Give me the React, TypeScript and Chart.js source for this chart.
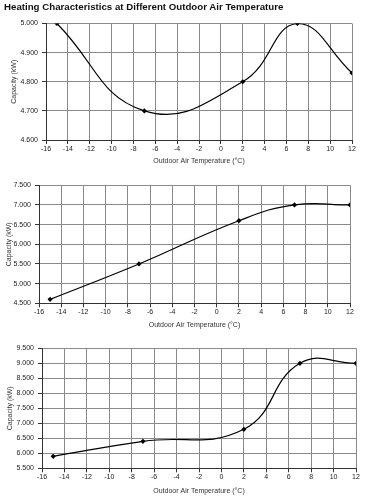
import React, { useEffect, useRef } from "react";
import { Chart, registerables } from "chart.js";

Chart.register(...registerables);

const titleText = "Heating Characteristics at Different Outdoor Air Temperature";
const xTitle = "Outdoor Air Temperature (°C)";
const yTitle = "Capacity (kW)";
const temps = [-15, -7, 2, 7, 12];
const capacity1 = [5.0, 4.7, 4.8, 5.0, 4.83];
const capacity2 = [4.6, 5.5, 6.6, 7.0, 7.0];
const capacity3 = [5.9, 6.4, 6.8, 9.0, 9.0];
const xMin = -16;
const xMax = 12;
const xStep = 2;

type Panel = {
  values: number[];
  yMin: number;
  yMax: number;
  yStep: number;
  top: number;
  height: number;
  padTop: number;
  padLeft: number;
  yWidth: number;
  padRight: number;
  xHeight: number;
};

const FONT = "'Liberation Sans', Arial, sans-serif";

function ChartPanel({ p }: { p: Panel }) {
  const ref = useRef<HTMLCanvasElement>(null);
  useEffect(() => {
    const ctx = ref.current!;
    const chart = new Chart(ctx, {
      type: "line",
      data: {
        datasets: [
          {
            data: temps.map((t, i) => ({ x: t, y: p.values[i] })),
            borderColor: "#000",
            borderWidth: 1.2,
            backgroundColor: "#000",
            pointStyle: "rectRot",
            pointRadius: 2.6,
            pointBorderWidth: 0,
            tension: 0.45,
            fill: false,
          },
        ],
      },
      options: {
        animation: false,
        responsive: false,
        maintainAspectRatio: false,
        events: [],
        layout: { padding: { top: p.padTop, left: p.padLeft, right: p.padRight, bottom: 0 } },
        plugins: { legend: { display: false }, tooltip: { enabled: false }, title: { display: false } },
        scales: {
          x: {
            type: "linear",
            min: xMin,
            max: xMax,
            ticks: {
              stepSize: xStep,
              font: { family: FONT, size: 7 },
              color: "#222",
              padding: 1,
              maxRotation: 0,
              autoSkip: false,
            },
            grid: { color: "#8a8a8a", lineWidth: 1, tickLength: 4, tickColor: "#333" },
            border: { color: "#333", width: 1 },
            title: {
              display: true,
              text: xTitle,
              font: { family: FONT, size: 7 },
              color: "#333",
              padding: 0,
            },
            afterFit: (s: any) => {
              s.height = p.xHeight;
            },
          },
          y: {
            type: "linear",
            min: p.yMin,
            max: p.yMax,
            ticks: {
              stepSize: p.yStep,
              font: { family: FONT, size: 7 },
              color: "#222",
              padding: 4,
              callback: (v: any) => Number(v).toFixed(3),
            },
            grid: { color: "#8a8a8a", lineWidth: 1, tickLength: 4, tickColor: "#333" },
            border: { color: "#333", width: 1 },
            title: {
              display: true,
              text: yTitle,
              font: { family: FONT, size: 7 },
              color: "#333",
              padding: 0,
            },
            afterFit: (s: any) => {
              s.width = p.yWidth;
            },
          },
        },
      },
    } as any);
    return () => chart.destroy();
  }, []);
  return (
    <canvas
      ref={ref}
      width={368}
      height={p.height}
      style={{ position: "absolute", left: 0, top: p.top, width: 368, height: p.height }}
    />
  );
}

const panels: Panel[] = [
  { values: capacity1, yMin: 4.6, yMax: 5.0, yStep: 0.1, top: 0, height: 165, padTop: 23.5, padLeft: 10, yWidth: 36, padRight: 16, xHeight: 25 },
  { values: capacity2, yMin: 4.5, yMax: 7.5, yStep: 0.5, top: 168, height: 161, padTop: 17.3, padLeft: 4.5, yWidth: 34.5, padRight: 18, xHeight: 25.7 },
  { values: capacity3, yMin: 5.5, yMax: 9.5, yStep: 0.5, top: 332, height: 163, padTop: 16.3, padLeft: 5.5, yWidth: 36.5, padRight: 12, xHeight: 26.7 },
];

export default function App() {
  return (
    <div style={{ position: "fixed", left: 0, top: 0, width: 368, height: 504, background: "#fff", overflow: "hidden" }}>
      {panels.map((p, i) => (
        <ChartPanel key={i} p={p} />
      ))}
      <div
        style={{
          position: "absolute",
          left: 4,
          top: 1,
          fontFamily: FONT,
          fontWeight: "bold",
          fontSize: 9.7,
          color: "#111",
          whiteSpace: "nowrap",
          lineHeight: "12px",
        }}
      >
        {titleText}
      </div>
    </div>
  );
}
